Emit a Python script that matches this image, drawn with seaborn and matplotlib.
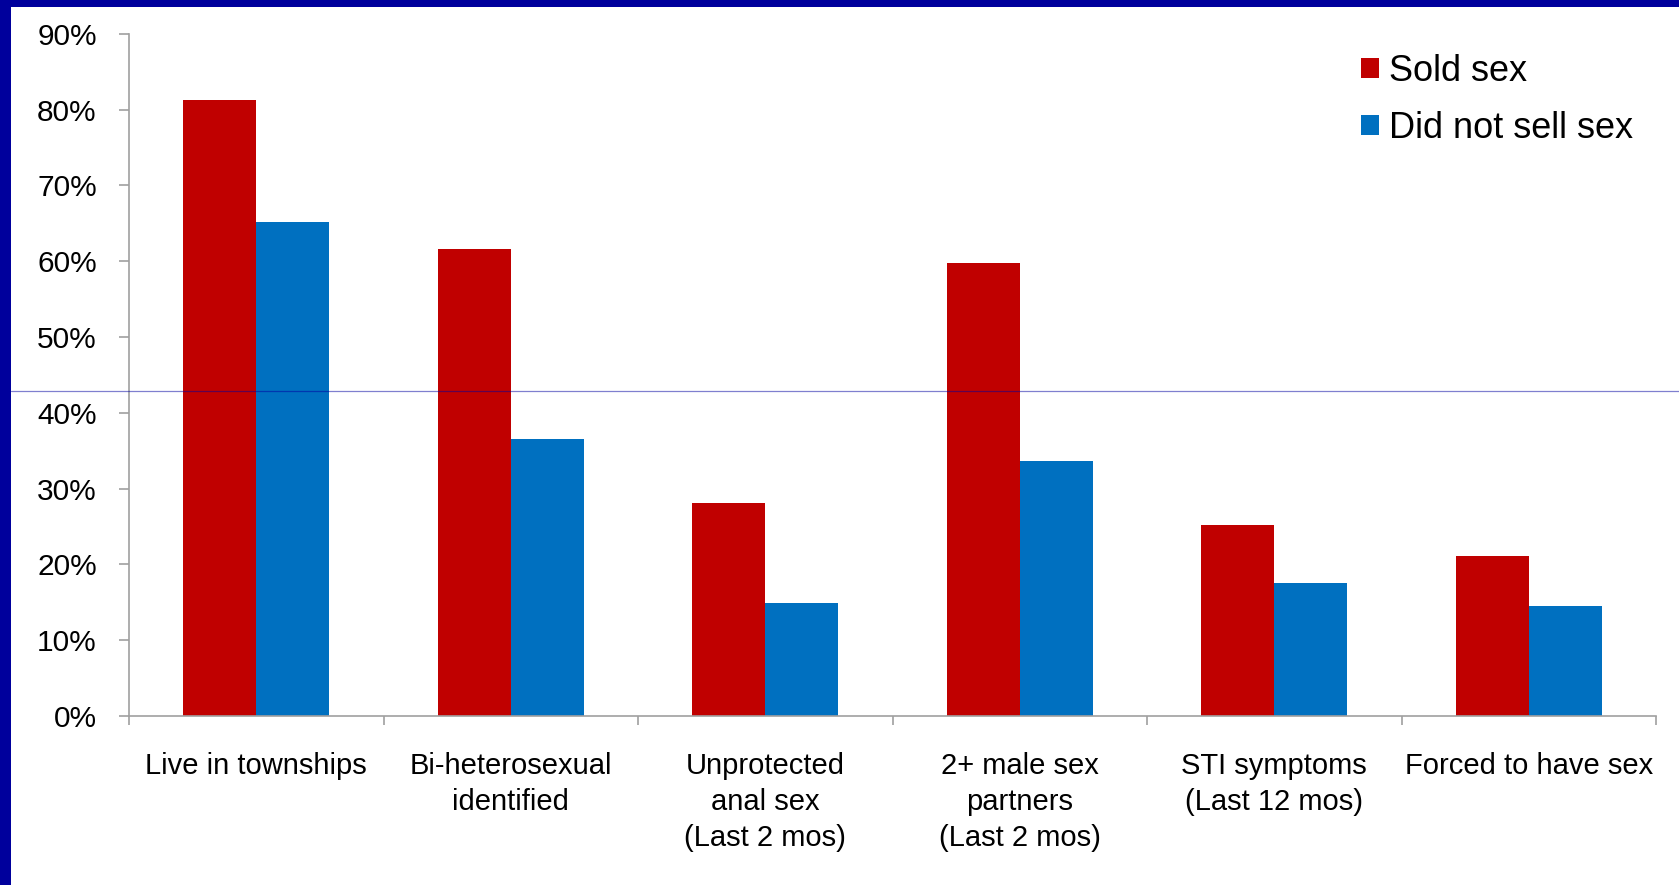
import matplotlib
matplotlib.use("Agg")
import matplotlib.pyplot as plt
import matplotlib.ticker as mticker
from matplotlib.patches import Rectangle
from matplotlib.lines import Line2D
import seaborn as sns
import pandas as pd

categories = [
    "Live in townships",
    "Bi-heterosexual\nidentified",
    "Unprotected\nanal sex\n(Last 2 mos)",
    "2+ male sex\npartners\n(Last 2 mos)",
    "STI symptoms\n(Last 12 mos)",
    "Forced to have sex",
]
series_names = ["Sold sex", "Did not sell sex"]
sold_sex = [81.2, 61.6, 28.1, 59.8, 25.2, 21.1]
did_not_sell = [65.1, 36.6, 14.9, 33.6, 17.6, 14.5]
y_ticks = [0, 10, 20, 30, 40, 50, 60, 70, 80, 90]

colors = {"Sold sex": "#C00000", "Did not sell sex": "#0070C0"}

df = pd.DataFrame({
    "category": categories * 2,
    "series": [series_names[0]] * len(categories) + [series_names[1]] * len(categories),
    "value": sold_sex + did_not_sell,
})

sns.set_style("white")
plt.rcParams["font.family"] = ["Liberation Sans", "DejaVu Sans"]

W, H = 1679, 885
fig = plt.figure(figsize=(W / 100, H / 100), dpi=100)
ax = fig.add_axes([129 / W, 1 - 716 / H, (1656 - 129) / W, (716 - 33.7) / H])

sns.barplot(data=df, x="category", y="value", hue="series", order=categories,
            hue_order=series_names, palette=colors, width=0.574, ax=ax,
            saturation=1, errorbar=None, linewidth=0)

ax.set_xlim(-0.5, len(categories) - 0.5)
ax.set_ylim(0, 90)
ax.set_yticks(y_ticks)
ax.yaxis.set_major_formatter(mticker.FuncFormatter(lambda v, p: f"{int(round(v))}%"))
ax.set_xlabel("")
ax.set_ylabel("")

ax.set_xticks(range(len(categories)))
ax.set_xticklabels(categories, fontsize=21, color="black", linespacing=1.36)
ax.set_xticks([i - 0.5 for i in range(len(categories) + 1)], minor=True)
ax.tick_params(axis="x", which="major", length=0, pad=26)
ax.tick_params(axis="x", which="minor", length=6.5, width=1.2, color="#A0A0A0", direction="out")
ax.tick_params(axis="y", which="major", length=7.2, width=1.2, color="#A0A0A0",
               direction="out", pad=16, labelsize=21.5, labelcolor="black")
ax.tick_params(left=True, bottom=True)
ax.xaxis.set_tick_params(which="minor", bottom=True)

for s in ["top", "right"]:
    ax.spines[s].set_visible(False)
for s in ["left", "bottom"]:
    ax.spines[s].set_color("#A0A0A0")
    ax.spines[s].set_linewidth(1.2)

leg = ax.get_legend()
if leg is not None:
    leg.remove()
handles = [Rectangle((0, 0), 1, 1, facecolor=colors[n], edgecolor="none") for n in series_names]
fig.legend(handles, series_names, loc="upper left",
           bbox_to_anchor=(1361 / W, 1 - 54 / H), bbox_transform=fig.transFigure,
           frameon=False, fontsize=26, handlelength=0.5, handleheight=0.5,
           handletextpad=0.27, labelspacing=0.6, borderpad=0, borderaxespad=0,
           labelcolor="black")

# slide decoration: dark blue border (left & top) and thin horizontal rule
fig.add_artist(Rectangle((0, 0), 11 / W, 1, transform=fig.transFigure,
                         facecolor="#00009C", edgecolor="none", zorder=10))
fig.add_artist(Rectangle((0, 1 - 7 / H), 1, 7 / H, transform=fig.transFigure,
                         facecolor="#00009C", edgecolor="none", zorder=10))
fig.add_artist(Line2D([11 / W, 1], [1 - 391.3 / H] * 2, transform=fig.transFigure,
                      color="#0000A0", alpha=0.5, linewidth=0.9, zorder=11))

fig.savefig("out.png", dpi=100)
